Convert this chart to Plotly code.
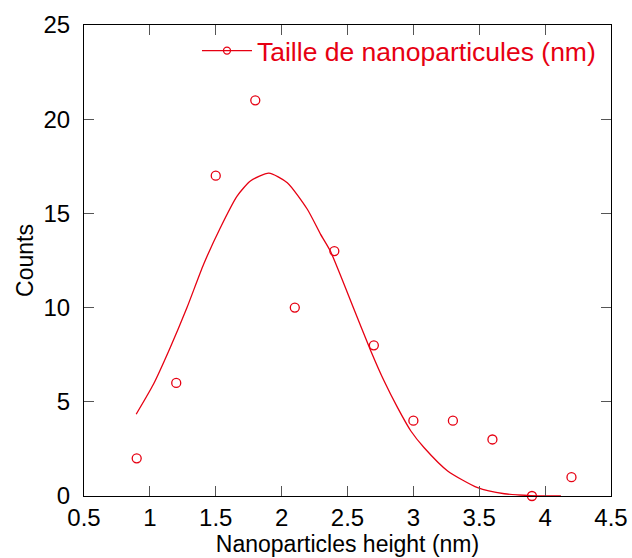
import plotly.graph_objects as go

# Measured counts
heights = [0.9, 1.2, 1.5, 1.8, 2.1, 2.4, 2.7, 3.0, 3.3, 3.6, 3.9, 4.2]
counts = [2, 6, 17, 21, 10, 13, 8, 4, 4, 3, 0, 1]

# Fitted curve
fit_x = [0.896, 1.027, 1.154, 1.281, 1.408, 1.535, 1.662, 1.763, 1.903, 2.043,
         2.195, 2.296, 2.37, 2.55, 2.677, 2.778, 2.880, 2.981, 3.082, 3.260,
         3.488, 3.691, 3.894, 4.12]
fit_y = [4.34, 5.93, 7.87, 9.99, 12.30, 14.24, 15.92, 16.72, 17.14, 16.63,
         15.22, 13.89, 13.0, 9.9, 7.70, 6.10, 4.69, 3.45, 2.56, 1.33,
         0.44, 0.12, 0.02, 0.0]

x_ticks = [0.5, 1, 1.5, 2, 2.5, 3, 3.5, 4, 4.5]
y_ticks = [0, 5, 10, 15, 20, 25]

RED = "#e60012"
FONT = "Liberation Sans, Arial, sans-serif"

fig = go.Figure()
fig.add_trace(go.Scatter(x=fit_x, y=fit_y, mode="lines",
                         line=dict(color=RED, width=1.3, shape="spline", smoothing=0.6),
                         showlegend=False, cliponaxis=False))
fig.add_trace(go.Scatter(x=heights, y=counts, mode="markers",
                         marker=dict(symbol="circle-open", size=9,
                                     color=RED, line=dict(width=1.3)),
                         showlegend=False, cliponaxis=False))
fig.add_trace(go.Scatter(x=[None], y=[None], mode="lines+markers",
                         name="Taille de nanoparticules (nm)",
                         line=dict(color=RED, width=1.3),
                         marker=dict(symbol="circle-open", size=7, color=RED,
                                     line=dict(width=1.3))))

axis_common = dict(showline=True, linecolor="black", linewidth=1,
                   mirror="ticks", ticks="inside", ticklen=10, tickwidth=1,
                   tickcolor="#555", showgrid=False, zeroline=False,
                   automargin=False,
                   tickfont=dict(family=FONT, size=24, color="black"),
                   title_font=dict(family=FONT, size=23, color="black"))

fig.update_xaxes(range=[0.5, 4.5], tickvals=x_ticks,
                 ticktext=[f"{v:g}" for v in x_ticks],
                 title_text="Nanoparticles height (nm)", title_standoff=0,
                 **axis_common)
fig.update_yaxes(range=[0, 25], tickvals=y_ticks,
                 ticktext=[str(v) for v in y_ticks],
                 ticklabelstandoff=8,
                 title_text="Counts", title_standoff=3, **axis_common)

fig.update_layout(
    width=632, height=558,
    margin=dict(l=84, r=21, t=25, b=62, pad=0),
    plot_bgcolor="white", paper_bgcolor="white",
    font=dict(family=FONT, color="black"),
    legend=dict(x=0.981, y=0.996, xanchor="right", yanchor="top",
                bgcolor="rgba(0,0,0,0)", itemwidth=50,
                font=dict(family=FONT, size=26.5, color=RED)),
)

fig.write_html("out.html", config={"displayModeBar": False},
               post_script="document.body.style.margin='0';document.body.style.overflow='hidden';")
